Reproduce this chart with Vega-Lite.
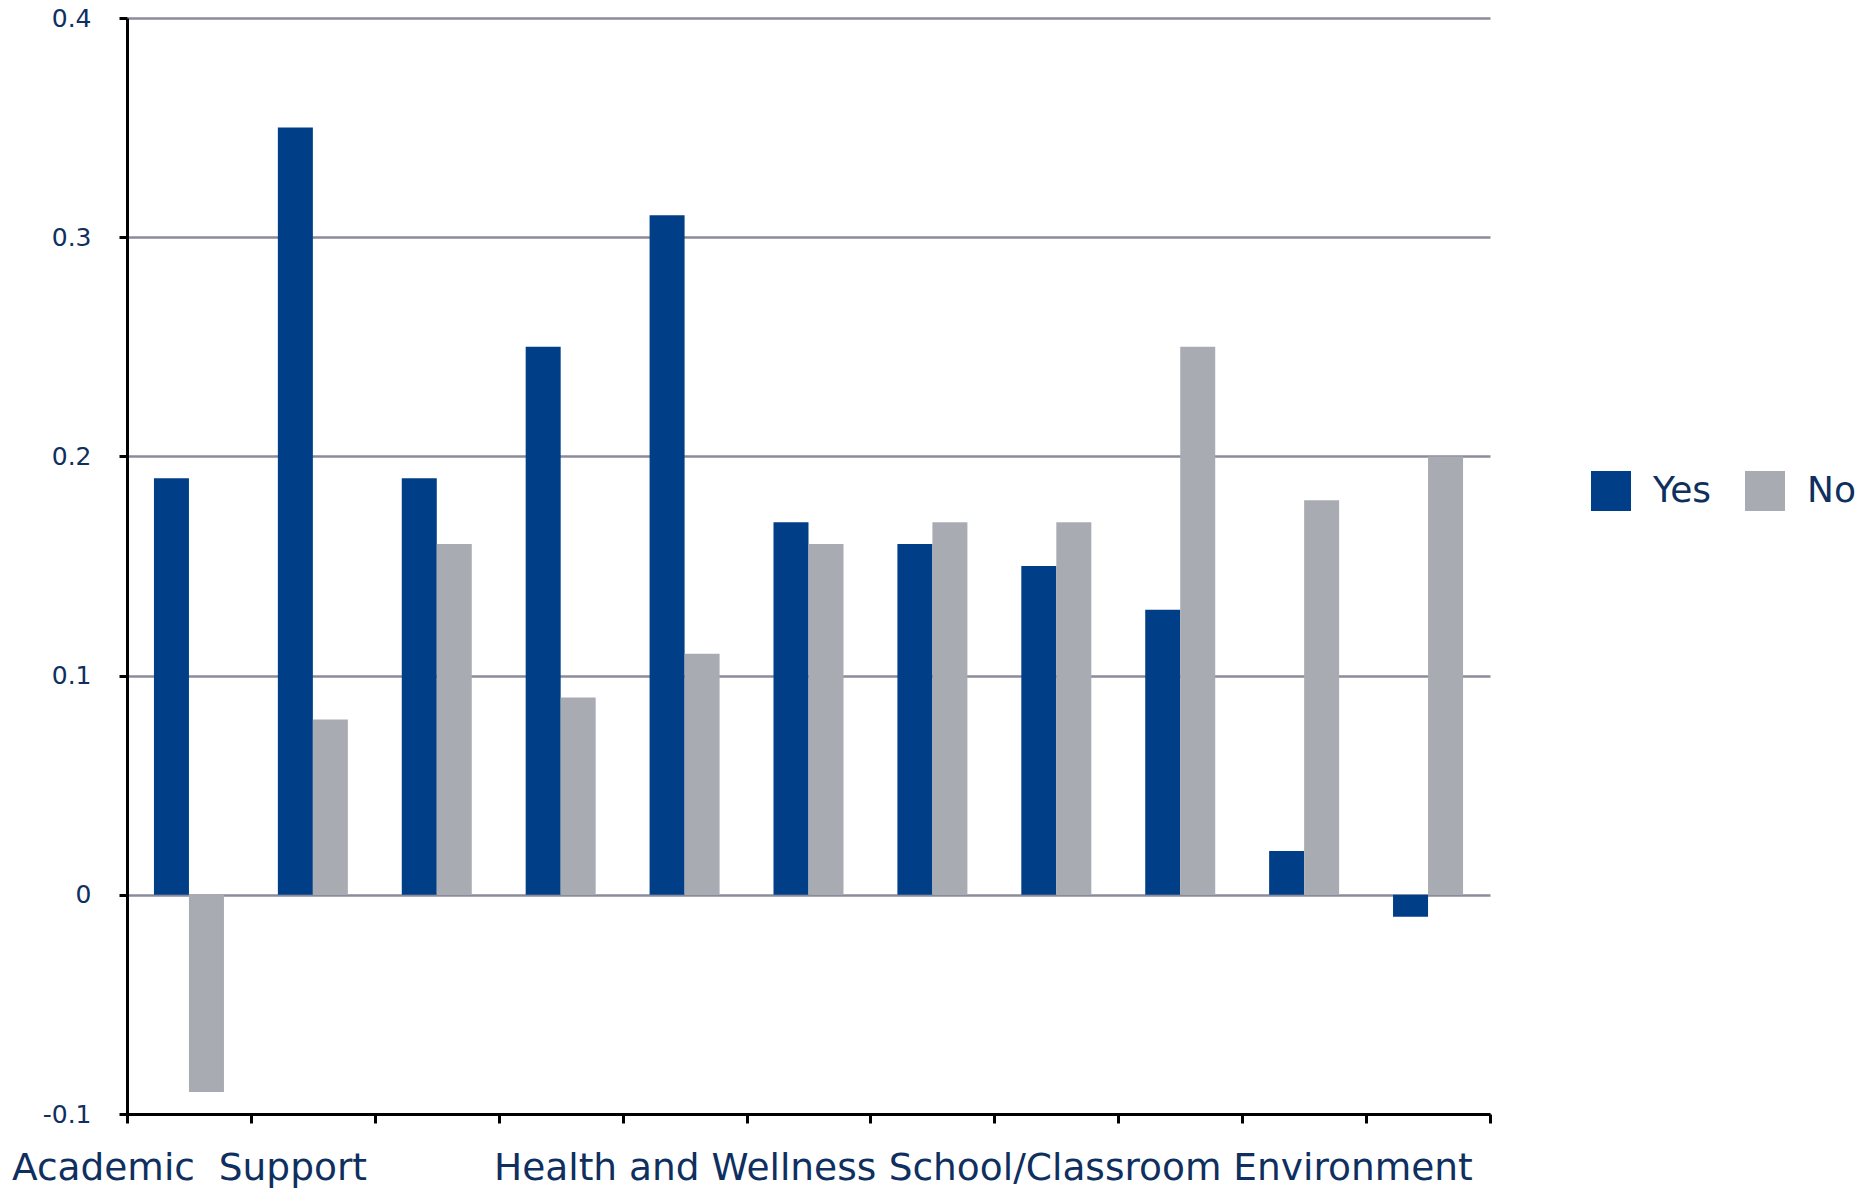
{
  "$schema": "https://vega.github.io/schema/vega-lite/v6.json",
  "autosize": {"type": "none"},
  "width": 1363,
  "height": 1096,
  "padding": {"left": 127, "top": 18, "right": 374, "bottom": 78},
  "background": "white",
  "config": {"view": {"stroke": null}, "font": "DejaVu Sans"},
  "data": {
    "values": [
      {"item": 1, "series": "Yes", "value": 0.19},
      {"item": 1, "series": "No", "value": -0.09},
      {"item": 2, "series": "Yes", "value": 0.35},
      {"item": 2, "series": "No", "value": 0.08},
      {"item": 3, "series": "Yes", "value": 0.19},
      {"item": 3, "series": "No", "value": 0.16},
      {"item": 4, "series": "Yes", "value": 0.25},
      {"item": 4, "series": "No", "value": 0.09},
      {"item": 5, "series": "Yes", "value": 0.31},
      {"item": 5, "series": "No", "value": 0.11},
      {"item": 6, "series": "Yes", "value": 0.17},
      {"item": 6, "series": "No", "value": 0.16},
      {"item": 7, "series": "Yes", "value": 0.16},
      {"item": 7, "series": "No", "value": 0.17},
      {"item": 8, "series": "Yes", "value": 0.15},
      {"item": 8, "series": "No", "value": 0.17},
      {"item": 9, "series": "Yes", "value": 0.13},
      {"item": 9, "series": "No", "value": 0.25},
      {"item": 10, "series": "Yes", "value": 0.02},
      {"item": 10, "series": "No", "value": 0.18},
      {"item": 11, "series": "Yes", "value": -0.01},
      {"item": 11, "series": "No", "value": 0.2}
    ]
  },
  "mark": {"type": "bar", "strokeWidth": 0},
  "encoding": {
    "x": {
      "field": "item",
      "type": "ordinal",
      "scale": {"paddingInner": 0, "paddingOuter": 0},
      "axis": {
        "title": null,
        "orient": "bottom",
        "tickBand": "extent",
        "labelAngle": 0,
        "labelExpr": "datum.value == 1 ? 'Academic\u00a0 Support' : datum.value == 5 ? 'Health and Wellness' : datum.value == 9 ? 'School/Classroom Environment' : ''",
        "labelFontSize": 37.5,
        "labelColor": "#0f2f5f",
        "labelOverlap": false,
        "labelBound": false,
        "labelFlush": false,
        "labelLimit": 0,
        "labelPadding": 26,
        "labelBaseline": "top",
        "domainColor": "#000000",
        "domainWidth": 3,
        "tickColor": "#000000",
        "tickWidth": 3,
        "tickSize": 9,
        "grid": false
      }
    },
    "xOffset": {
      "field": "series",
      "type": "nominal",
      "scale": {"domain": ["Yes", "No"], "paddingInner": 0, "paddingOuter": 0.77}
    },
    "y": {
      "field": "value",
      "type": "quantitative",
      "scale": {"domain": [-0.1, 0.4], "nice": false, "zero": false},
      "axis": {
        "title": null,
        "values": [-0.1, 0, 0.1, 0.2, 0.3, 0.4],
        "labelExpr": "toString(round(datum.value*10)/10)",
        "labelFontSize": 25,
        "labelColor": "#0f2f5f",
        "labelPadding": 28,
        "domainColor": "#000000",
        "domainWidth": 3,
        "tickColor": "#000000",
        "tickWidth": 3,
        "tickSize": 8,
        "grid": true,
        "gridColor": "#8b8b9b",
        "gridWidth": 2.5
      }
    },
    "color": {
      "field": "series",
      "type": "nominal",
      "scale": {"domain": ["Yes", "No"], "range": ["#003e87", "#a8acb2"]},
      "legend": {
        "title": null,
        "orient": "none",
        "direction": "horizontal",
        "legendX": 1464,
        "legendY": 453,
        "symbolType": "square",
        "symbolSize": 1600,
        "symbolStrokeWidth": 0,
        "symbolOpacity": 1,
        "labelFontSize": 36,
        "labelColor": "#0f2f5f",
        "labelOffset": 22,
        "columnPadding": 33
      }
    }
  }
}
